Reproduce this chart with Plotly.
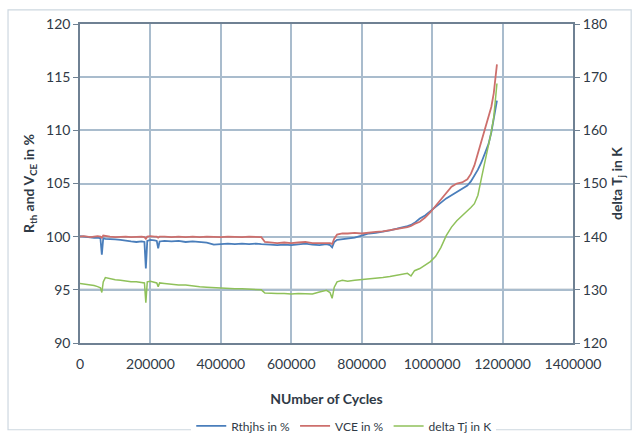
import plotly.graph_objects as go

# Number of load cycles at each logged sample
cycles = [
    0, 10000, 20000, 30000, 40000, 50000, 58000, 62000, 66000, 72000,
    85000, 100000, 115000, 130000, 145000, 160000, 175000, 183000, 187000, 191000,
    200000, 212000, 218000, 222000, 226000, 240000, 260000, 280000, 300000, 320000,
    340000, 360000, 380000, 400000, 420000, 440000, 460000, 480000, 500000, 515000,
    525000, 540000, 560000, 580000, 600000, 620000, 640000, 660000, 680000, 700000,
    710000, 716000, 722000, 730000, 745000, 760000, 780000, 800000, 820000, 840000,
    860000, 880000, 900000, 915000, 930000, 940000, 950000, 965000, 980000, 995000,
    1010000, 1025000, 1040000, 1055000, 1070000, 1085000, 1100000, 1110000, 1120000, 1130000,
    1140000, 1150000, 1160000, 1168000, 1175000, 1180000, 1184000,
]

# Thermal resistance junction-heatsink, percent of initial value
rthjhs_pct = [
    100.05, 100.0, 99.95, 99.95, 99.9, 99.9, 99.85, 98.3, 99.85, 99.8,
    99.8, 99.75, 99.7, 99.6, 99.55, 99.5, 99.55, 99.5, 97.0, 99.6,
    99.7, 99.65, 99.6, 98.9, 99.55, 99.6, 99.55, 99.6, 99.5, 99.55,
    99.5, 99.45, 99.25, 99.3, 99.35, 99.3, 99.35, 99.3, 99.35, 99.3,
    99.3, 99.25, 99.2, 99.25, 99.2, 99.3, 99.35, 99.25, 99.2, 99.3,
    99.2, 99.0, 99.5, 99.7, 99.75, 99.8, 99.9, 100.1, 100.3, 100.35,
    100.45, 100.6, 100.75, 100.85, 101.0, 101.1, 101.3, 101.7, 102.0, 102.4,
    102.8, 103.2, 103.6, 103.9, 104.2, 104.5, 104.8, 105.2, 105.7, 106.3,
    107.0, 107.8, 108.7, 109.8, 111.0, 112.0, 112.8,
]

# Collector-emitter voltage, percent of initial value
vce_pct = [
    100.0, 100.05, 100.0, 99.95, 100.0, 100.05, 100.0, 99.9, 100.1, 100.05,
    100.0, 99.95, 100.0, 100.0, 99.95, 100.0, 100.0, 99.95, 99.8, 100.0,
    100.05, 100.0, 100.0, 99.9, 100.0, 100.0, 99.95, 100.0, 99.95, 100.0,
    99.95, 100.0, 99.95, 99.95, 100.0, 99.95, 99.95, 100.0, 99.95, 99.95,
    99.5, 99.45, 99.4, 99.45, 99.4, 99.45, 99.5, 99.4, 99.4, 99.45,
    99.4, 99.3, 99.8, 100.2, 100.3, 100.3, 100.35, 100.3, 100.4, 100.45,
    100.5, 100.6, 100.7, 100.8, 100.9, 101.0, 101.2, 101.4, 101.8, 102.3,
    102.9, 103.5, 104.2, 104.7, 105.0, 105.1, 105.4, 105.9, 106.7, 107.8,
    109.0, 110.1, 111.2, 112.2, 113.5, 114.8, 116.2,
]

# Junction temperature swing in K
delta_tj_k = [
    131.2, 131.1, 131.0, 131.0, 130.8, 130.6, 130.4, 129.5, 131.5, 132.3,
    132.1, 131.9, 131.8, 131.6, 131.5, 131.5, 131.4, 131.3, 127.6, 131.5,
    131.6, 131.4, 131.3, 130.6, 131.3, 131.2, 131.0, 130.9, 130.9, 130.7,
    130.6, 130.5, 130.4, 130.4, 130.3, 130.2, 130.2, 130.1, 130.1, 130.0,
    129.4, 129.3, 129.3, 129.3, 129.2, 129.3, 129.3, 129.2, 129.6, 129.9,
    129.5, 128.4, 130.5, 131.5, 131.8, 131.6, 131.8, 131.9, 132.1, 132.2,
    132.3, 132.5, 132.7, 132.9, 133.1, 132.6, 133.6, 134.0, 134.6, 135.3,
    136.3, 138.0, 140.2, 141.8, 143.0, 143.9, 144.8, 145.5, 146.2, 147.8,
    151.0, 154.0, 157.0, 159.7, 162.5, 165.5, 168.8,
]

x_ticks = [0, 200000, 400000, 600000, 800000, 1000000, 1200000, 1400000]
x_tick_labels = ["0", "200000", "400000", "600000", "800000", "1000000", "1200000", "1400000"]

FONT = "Lato, 'Open Sans', sans-serif"
TEXT = "#2f3a46"
GRID = "#a9bccd"
FRAME = "#6f8193"

fig = go.Figure()
fig.add_trace(go.Scatter(x=cycles, y=rthjhs_pct, name="Rthjhs in %", mode="lines",
                         line=dict(color="#4a7ebb", width=1.8)))
fig.add_trace(go.Scatter(x=cycles, y=vce_pct, name="VCE in %", mode="lines",
                         line=dict(color="#cd6f6c", width=1.8)))
fig.add_trace(go.Scatter(x=cycles, y=delta_tj_k, name="delta Tj in K", mode="lines",
                         yaxis="y2", line=dict(color="#8fc15a", width=1.5)))

# outer chart frame and the darker 95 % line
fig.add_shape(type="rect", xref="paper", yref="paper", x0=-0.146, x1=1.118, y0=-0.272, y1=1.044,
              line=dict(color="#cdd7e0", width=1.2), layer="below")
fig.add_shape(type="line", xref="paper", yref="y", x0=0, x1=1, y0=95, y1=95,
              line=dict(color="#8c9aa8", width=2), layer="below")

fig.update_layout(
    width=639, height=437,
    margin=dict(l=80, r=66, t=24, b=94, autoexpand=False),
    paper_bgcolor="white", plot_bgcolor="white",
    font=dict(family=FONT, size=13, color=TEXT),
    showlegend=True,
    legend=dict(orientation="h", x=0.535, xanchor="center", y=-0.26, yanchor="middle",
                font=dict(family=FONT, size=12, color=TEXT), itemwidth=30,
                tracegroupgap=0, traceorder="normal"),
    xaxis=dict(
        range=[0, 1400000], tickvals=x_ticks, ticktext=x_tick_labels,
        showgrid=True, gridcolor=GRID, gridwidth=1.5,
        showline=True, linecolor=FRAME, linewidth=1.5, mirror=True,
        ticks="outside", ticklen=7, tickcolor="rgba(0,0,0,0)",
        tickfont=dict(family=FONT, size=14, color=TEXT),
        title=dict(text="<b>NUmber of Cycles</b>", font=dict(family=FONT, size=14, color=TEXT),
                   standoff=24),
        zeroline=False, automargin=False,
    ),
    yaxis=dict(
        range=[90, 120], dtick=5,
        showgrid=True, gridcolor=GRID, gridwidth=1.5,
        showline=True, linecolor=FRAME, linewidth=1.5, mirror=True,
        ticks="outside", ticklen=5, tickcolor=FRAME,
        tickfont=dict(family=FONT, size=14, color=TEXT),
        title=dict(text="<b>R<sub>th</sub> and V<sub>CE</sub> in %</b>",
                   font=dict(family=FONT, size=14, color=TEXT), standoff=8),
        zeroline=False, automargin=False,
    ),
    yaxis2=dict(
        range=[120, 180], dtick=10, overlaying="y", side="right",
        showgrid=False, showline=False,
        ticks="outside", ticklen=6, tickcolor=FRAME,
        tickfont=dict(family=FONT, size=14, color=TEXT),
        title=dict(text="<b>delta T<sub>j</sub> in K</b>",
                   font=dict(family=FONT, size=14, color=TEXT), standoff=6),
        zeroline=False, automargin=False,
    ),
)

fig.write_html("out.html")
